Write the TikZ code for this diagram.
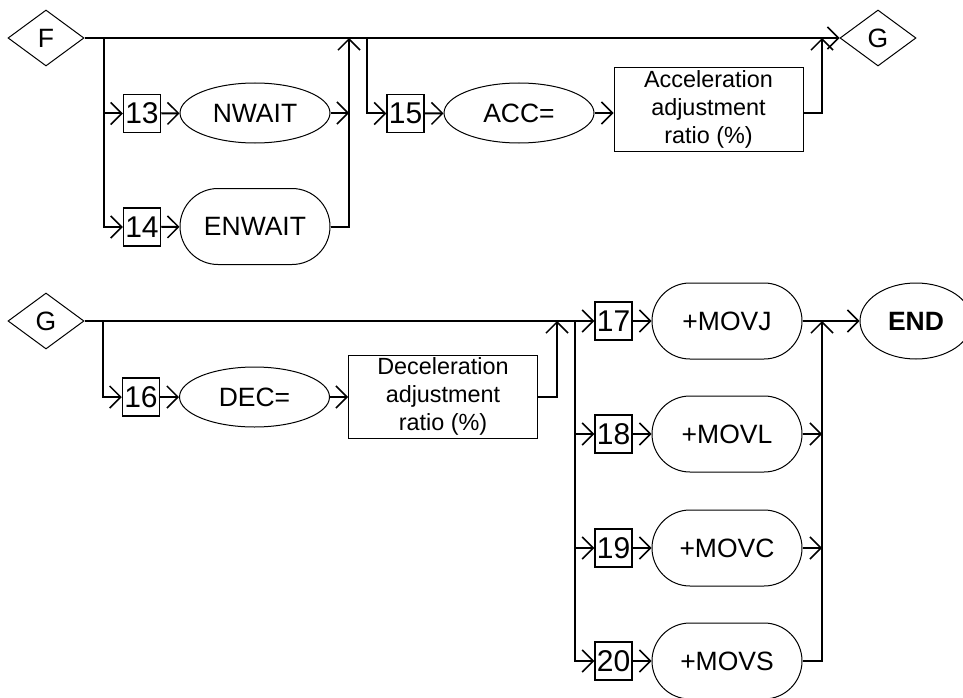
\documentclass[tikz,border=0pt]{standalone}
\usepackage{fontspec}
\setmainfont{Liberation Sans}
\usetikzlibrary{arrows.meta,shapes.geometric}

\tikzset{
  rail/.style={line width=2pt},
  railarr/.style={rail,-{Straight Barb[length=11pt,width=22pt,line width=1.5pt]}},
  keyword/.style={draw,line width=1pt,ellipse,minimum width=150pt,minimum height=60pt,
    inner sep=0pt,font=\fontsize{26.5}{30}\selectfont},
  stadium/.style={draw,line width=1pt,rectangle,rounded corners=38pt,minimum width=150pt,
    minimum height=76pt,inner sep=0pt,font=\fontsize{26.5}{30}\selectfont},
  numbox/.style={draw,line width=1.5pt,minimum width=37pt,minimum height=38pt,
    inner sep=0pt,font=\fontsize{30}{32}\selectfont},
  valuebox/.style={draw,line width=1pt,minimum width=189pt,minimum height=83pt,
    inner sep=0pt,align=center,font=\fontsize{23.4}{28}\selectfont},
  link/.style={diamond,draw,line width=1pt,minimum width=76pt,minimum height=56pt,
    inner sep=0pt,font=\fontsize{26.5}{30}\selectfont}
}

\begin{document}
\begin{tikzpicture}[x=1pt,y=-1pt]
  \useasboundingbox (0,0) rectangle (963,698);

  % first line: F ... G
  \node[link] (F) at (46,38) {F};
  \node[link] (G) at (878,38) {G};
  \node[numbox] (n13) at (142,113.5) {13};
  \node[keyword] (nwait) at (255,113) {NWAIT};
  \node[numbox] (n14) at (142,227) {14};
  \node[stadium] (enwait) at (255,226.5) {ENWAIT};
  \node[numbox] (n15) at (405.5,113.5) {15};
  \node[keyword] (acc) at (519,113) {ACC=};
  \node[valuebox] (accval) at (708.5,109.5) {Acceleration\\adjustment\\ratio (\%)};
  \coordinate (s1) at (104,38);
  \coordinate (j1) at (349,38);
  \coordinate (s2) at (367,38);
  \coordinate (j2) at (822,38);

  \draw[railarr] (F.east) -- (G.west);
  \draw[railarr] (s1) |- (n13);
  \draw[railarr] (s1) |- (n14);
  \draw[railarr] (n13) -- (nwait);
  \draw[railarr] (n14) -- (enwait);
  \draw[railarr] (nwait) -- (nwait -| j1);
  \draw[railarr] (enwait.east) -| (j1);
  \draw[railarr] (s2) |- (n15);
  \draw[railarr] (n15) -- (acc);
  \draw[railarr] (acc) -- (accval.west |- acc);
  \draw[railarr] (accval.east |- acc) -| (j2);

  % second line: G ... END
  \node[link] (G2) at (46,321) {G};
  \node[numbox] (n16) at (141,397) {16};
  \node[keyword] (dec) at (254.5,397) {DEC=};
  \node[valuebox] (decval) at (443,396.5) {Deceleration\\adjustment\\ratio (\%)};
  \node[keyword,minimum width=112pt,minimum height=76pt,font=\fontsize{26.5}{30}\selectfont\bfseries]
    (end) at (916,321) {END};
  \coordinate (s3) at (103,321);
  \coordinate (j3) at (557,321);
  \coordinate (s4) at (575,321);
  \coordinate (j4) at (822,321);

  \draw[rail] (G2.east) -- (s4);
  \draw[railarr] (s3) |- (n16);
  \draw[railarr] (n16) -- (dec);
  \draw[railarr] (dec) -- (decval.west |- dec);
  \draw[railarr] (decval.east |- dec) -| (j3);

  \foreach \n/\m/\y in {17/J/321,18/L/434,19/C/548,20/S/661} {
    \node[numbox] (n\n) at (613.5,\y) {\n};
    \node[stadium] (mov\m) at (727,\y) {+MOV\m};
    \draw[railarr] (s4) |- (n\n);
    \draw[railarr] (n\n) -- (mov\m);
  }
  \draw[railarr] (movL) -- (movL -| j4);
  \draw[railarr] (movC) -- (movC -| j4);
  \draw[railarr] (movS.east) -| (j4);
  \draw[railarr] (movJ) -- (end);
\end{tikzpicture}
\end{document}
